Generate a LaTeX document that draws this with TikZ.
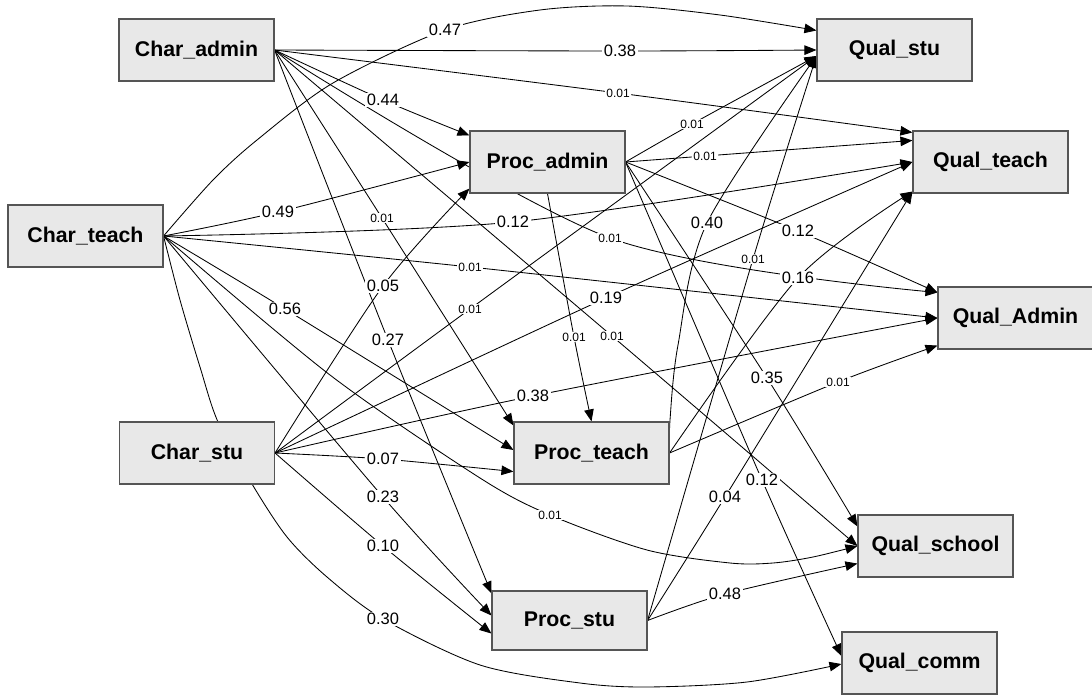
\documentclass[tikz,border=0pt]{standalone}
\usepackage{fontspec}
\setmainfont{Liberation Sans}
\usetikzlibrary{arrows.meta,calc}
\pgfdeclarelayer{edges}
\pgfdeclarelayer{bgfill}
\pgfsetlayers{bgfill,edges,main}
\definecolor{boxfill}{RGB}{232,232,232}
\definecolor{boxline}{RGB}{85,85,85}
\newcommand\conn[5]{%
  \begin{pgfonlayer}{edges}\draw[edge] plot[smooth] coordinates {#1 #2 #3};\end{pgfonlayer}
  \node[#4] at #2 {#5};}
\begin{document}
\begin{tikzpicture}[x=1pt,y=-1pt,
  box/.style={draw=boxline, fill=boxfill, line width=1.1pt, minimum width=155pt, minimum height=62pt, inner sep=0pt, font=\fontsize{21.3}{24}\selectfont\bfseries},
  edge/.style={line width=0.85pt, draw=black, -{Triangle[length=12pt,width=9.5pt]}},
  lab/.style={fill=white, inner xsep=1.5pt, inner ysep=1pt, font=\fontsize{16.5}{18}\selectfont},
  slab/.style={fill=white, inner xsep=1.2pt, inner ysep=0.8pt, font=\fontsize{12}{14}\selectfont}]
\useasboundingbox (0,0) rectangle (1092,695);
\begin{pgfonlayer}{bgfill}
\fill[white] (0,0) rectangle (1092,695);
\end{pgfonlayer}
% boxes
\node[box] (ca) at (196.5,50) {Char\_admin};
\node[box] (ct) at (85.5,236) {Char\_teach};
\node[box] (cs) at (197,453) {Char\_stu};
\node[box] (pa) at (547.5,162) {Proc\_admin};
\node[box] (pt) at (591.5,453) {Proc\_teach};
\node[box, minimum height=59pt] (ps) at (569.5,620.5) {Proc\_stu};
\node[box] (qs) at (894.5,50) {Qual\_stu};
\node[box] (qt) at (990.5,162) {Qual\_teach};
\node[box] (qa) at (1015.5,318) {Qual\_Admin};
\node[box] (qsc) at (935.5,546) {Qual\_school};
\node[box] (qc) at (919.5,663) {Qual\_comm};
% ports
\coordinate (qsA) at ($(qs.north west)+(0,12)$);
\coordinate (qsB) at (qs.west);
\coordinate (qsC) at ($(qs.west)+(0,6)$);
\coordinate (qtA) at ($(qt.north west)+(0,2)$);
\coordinate (qtB) at ($(qt.north west)+(0,10)$);
\coordinate (qtC) at (qt.west);
\coordinate (qtD) at ($(qt.south west)+(0,-2)$);
\coordinate (qaA) at ($(qa.north west)+(0,6)$);
\coordinate (qaB) at (qa.west);
\coordinate (qaC) at ($(qa.south west)+(0,-4)$);
\coordinate (qscA) at ($(qsc.north west)+(0,12)$);
\coordinate (qscB) at (qsc.west);
\coordinate (qscC) at ($(qsc.south west)+(0,-14)$);
\coordinate (qcA) at ($(qc.west)+(0,-7)$);
\coordinate (qcB) at ($(qc.west)+(0,1)$);
\coordinate (paA) at ($(pa.north west)+(0,5)$);
\coordinate (paB) at (pa.west);
\coordinate (paC) at ($(pa.south west)+(0,-5)$);
\coordinate (ptA) at ($(pt.north west)+(0,4)$);
\coordinate (ptB) at ($(pt.west)+(0,-3)$);
\coordinate (ptC) at ($(pt.south west)+(0,-13)$);
\coordinate (psA) at ($(ps.north west)+(0,3)$);
\coordinate (psB) at ($(ps.west)+(0,-5)$);
\coordinate (psC) at ($(ps.south west)+(0,-17)$);
% Char_admin
\conn{(ca.east)}{(620,51)}{(qsB)}{lab}{0.38}
\conn{(ca.east)}{(618,93)}{(qtA)}{slab}{0.01}
\conn{(ca.east)}{(383,100)}{(paA)}{lab}{0.44}
\conn{(ca.east)}{(382,218)}{(ptA)}{slab}{0.01}
\conn{(ca.east)}{(388,340)}{(psA)}{lab}{0.27}
\conn{(ca.east)}{(610,238)}{(qaA)}{slab}{0.01}
\conn{(ca.east)}{(612,336)}{(qscB)}{slab}{0.01}
% Char_teach
\begin{pgfonlayer}{edges}
\draw[edge] plot[smooth] coordinates {(ct.east) (213,180) (257,140) (333,83) (445,30) (540,10) (627,6) (720,15) (qsA)};
\draw[edge] plot[smooth] coordinates {(ct.east) (330,375) (480,478) (550,515) (647,550) (730,563) (773,563) (813,557) (qscB)};
\draw[edge] plot[smooth] coordinates {(ct.east) (180,300) (200,367) (218,422) (252,484) (287,537) (327,577) (383,619) (480,665) (580,683) (647,687) (747,682) (qcB)};
\end{pgfonlayer}
\node[lab] at (445,30) {0.47};
\node[slab] at (550,515) {0.01};
\node[lab] at (383,619) {0.30};
\conn{(ct.east)}{(278,212)}{(paB)}{lab}{0.49}
\conn{(ct.east)}{(513,222)}{(qtC)}{lab}{0.12}
\conn{(ct.east)}{(470,267)}{(qaB)}{slab}{0.01}
\conn{(ct.east)}{(285,309)}{(ptB)}{lab}{0.56}
\conn{(ct.east)}{(383,497)}{(psB)}{lab}{0.23}
% Char_stu
\conn{(cs.east)}{(383,286)}{(paC)}{lab}{0.05}
\conn{(cs.east)}{(470,309)}{(qsC)}{slab}{0.01}
\conn{(cs.east)}{(606,298)}{(qtC)}{lab}{0.19}
\conn{(cs.east)}{(533,396)}{(qaB)}{lab}{0.38}
\conn{(cs.east)}{(383,459)}{(ptC)}{lab}{0.07}
\conn{(cs.east)}{(383,546)}{(psC)}{lab}{0.10}
% Proc_admin
\conn{(pa.east)}{(692,124)}{(qsC)}{slab}{0.01}
\conn{(pa.east)}{(705,156)}{(qtB)}{slab}{0.01}
\conn{(pa.east)}{(798,231)}{(qaA)}{lab}{0.12}
\conn{(pa.east)}{(767,378)}{(qscA)}{lab}{0.35}
\conn{(pa.east)}{(762,480)}{(qcA)}{lab}{0.12}
\conn{(pa.south)}{(574,337)}{(pt.north)}{slab}{0.01}
% Proc_teach
\begin{pgfonlayer}{edges}
\draw[edge] plot[smooth] coordinates {(pt.east) (670,420) (678,345) (707,223) (qsC)};
\end{pgfonlayer}
\node[lab] at (707,223) {0.40};
\conn{(pt.east)}{(798,278)}{(qtD)}{lab}{0.16}
\conn{(pt.east)}{(838,382)}{(qaC)}{slab}{0.01}
% Proc_stu
\conn{(ps.east)}{(753,259)}{(qsC)}{slab}{0.01}
\conn{(ps.east)}{(725,497)}{(qtD)}{lab}{0.04}
\conn{(ps.east)}{(725,594)}{(qscC)}{lab}{0.48}
\end{tikzpicture}
\end{document}
